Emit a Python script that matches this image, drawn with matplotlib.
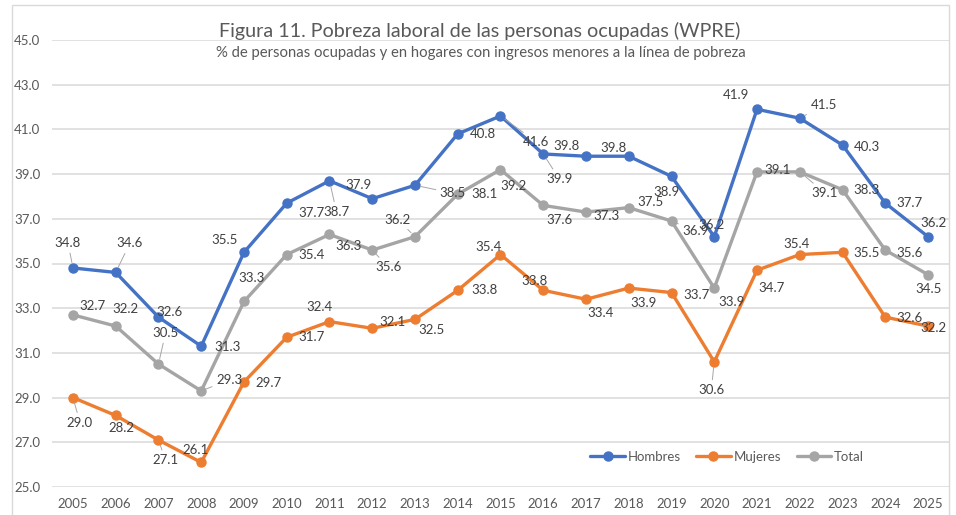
import matplotlib.pyplot as plt
from matplotlib.patches import Rectangle

plt.rcParams['font.family'] = ['Lato', 'DejaVu Sans']

# data
years = [str(y) for y in range(2005, 2026)]
hombres = [34.8, 34.6, 32.6, 31.3, 35.5, 37.7, 38.7, 37.9, 38.5, 40.8, 41.6,
           39.9, 39.8, 39.8, 38.9, 36.2, 41.9, 41.5, 40.3, 37.7, 36.2]
mujeres = [29.0, 28.2, 27.1, 26.1, 29.7, 31.7, 32.4, 32.1, 32.5, 33.8, 35.4,
           33.8, 33.4, 33.9, 33.7, 30.6, 34.7, 35.4, 35.5, 32.6, 32.2]
total = [32.7, 32.2, 30.5, 29.3, 33.3, 35.4, 36.3, 35.6, 36.2, 38.1, 39.2,
         37.6, 37.3, 37.5, 36.9, 33.9, 39.1, 39.1, 38.3, 35.6, 34.5]
yticks = [25.0, 27.0, 29.0, 31.0, 33.0, 35.0, 37.0, 39.0, 41.0, 43.0, 45.0]

# label offsets in pixels (dx right, dy down) as placed in the original chart
off_h = [(-5, -25), (14, -29), (11, -5), (26, 1), (-19, -12), (25, 10), (7, 31),
         (-14, -14), (38, 8), (25, 0), (36, 26), (16, 25), (-20, -10), (-15, -8),
         (-5, 16), (-3, -12), (-21, -14), (24, -13), (24, 2), (24, 0), (5, -14)]
off_m = [(7, 25), (6, 13), (7, 20), (-6, -12), (25, 1), (25, 0), (-10, -15),
         (20, -6), (17, 11), (27, 0), (-12, -8), (-9, -9), (15, 14), (15, 15),
         (25, 2), (-3, 28), (14, 18), (-3, -11), (24, 1), (24, 1), (5, 2)]
off_t = [(19, -9), (10, -17), (7, -31), (28, -11), (8, -23), (25, 0), (19, 12),
         (16, 17), (-17, -17), (27, 0), (13, 16), (16, 15), (20, 4), (22, -6),
         (24, 10), (17, 14), (21, -2), (25, 21), (24, 0), (24, 3), (1, 14)]
lead_h = [0, 1, 6, 8, 10, 11, 17]
lead_m = [0, 2, 15]
lead_t = [2, 3, 7, 8, 14, 17]

W, H = 956, 515
fig = plt.figure(figsize=(W / 100, H / 100), dpi=100)
ax = fig.add_axes([51.6 / W, 1 - 487 / H, (949.4 - 51.6) / W, (487 - 40) / H])

# chart frame
fig.patches.append(Rectangle((12 / W, -0.05), (949 - 12) / W, 1.05 - 5 / H,
                             transform=fig.transFigure, fill=False,
                             edgecolor='#D9D9D9', lw=1.0, zorder=0))

x = list(range(len(years)))
series = [('Hombres', hombres, '#4472C4', off_h, lead_h),
          ('Mujeres', mujeres, '#ED7D31', off_m, lead_m),
          ('Total', total, '#A5A5A5', off_t, lead_t)]

for name, vals, col, offs, leads in series:
    ax.plot(x, vals, color=col, lw=2.4, marker='o', markersize=6.5,
            label=name, zorder=3, solid_capstyle='round')
    for i, v in enumerate(vals):
        dx, dy = offs[i]
        ap = None
        if i in leads:
            ap = dict(arrowstyle='-', color='#A6A6A6', lw=0.7,
                      shrinkA=1, shrinkB=4)
        ax.annotate(f'{v:.1f}', (i, v), xytext=(dx, -dy),
                    textcoords='offset pixels', ha='center', va='center',
                    fontsize=9.5, color='#404040', arrowprops=ap, zorder=4)

ax.set_xlim(-0.5, 20.5)
ax.set_ylim(25, 45)
ax.set_yticks(yticks)
ax.set_yticklabels([f'{t:.1f}' for t in yticks], ha='left')
ax.set_xticks(x)
ax.set_xticklabels(years)
ax.tick_params(axis='y', length=0, pad=27, labelsize=9.5, labelcolor='#595959')
ax.tick_params(axis='x', length=0, pad=8, labelsize=9.5, labelcolor='#595959')
ax.grid(axis='y', color='#D9D9D9', lw=1.1)
ax.set_axisbelow(True)
for s in ax.spines.values():
    s.set_visible(False)

fig.text(480 / W, 1 - 31 / H, 'Figura 11. Pobreza laboral de las personas ocupadas (WPRE)',
         ha='center', va='center', fontsize=14.2, color='#595959')
fig.text(481 / W, 1 - 53 / H,
         '% de personas ocupadas y en hogares con ingresos menores a la línea de pobreza',
         ha='center', va='center', fontsize=10.7, color='#595959')

fig.legend(loc='center', bbox_to_anchor=(727 / W, 1 - 457 / H), ncol=3,
           frameon=False, fontsize=9.5, handlelength=2.6, handletextpad=0.2,
           columnspacing=1.2, labelcolor='#595959')

fig.savefig('out.png', dpi=100)
